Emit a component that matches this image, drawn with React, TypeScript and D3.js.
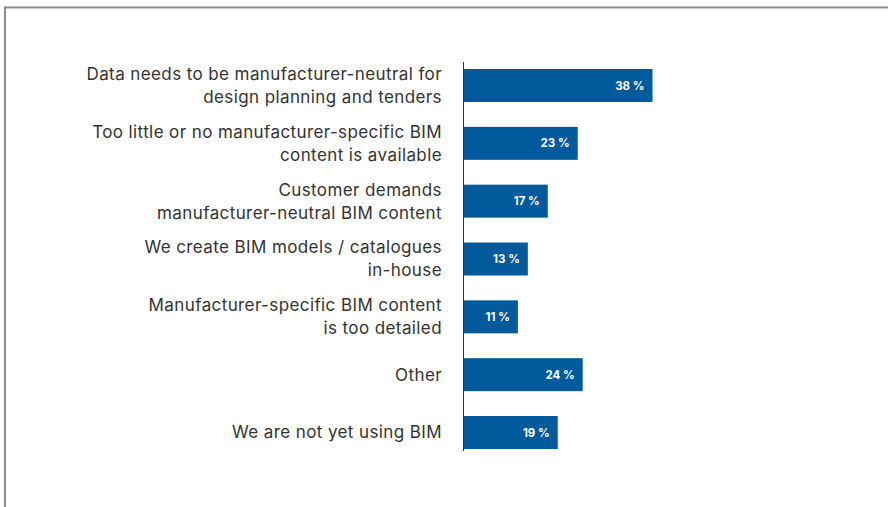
import React from "react";
import { scaleLinear, scaleBand } from "d3";

const width = 888;
const height = 507;

// survey answers, top to bottom
const categories = [
  ["Data needs to be manufacturer-neutral for", "design planning and tenders"],
  ["Too little or no manufacturer-specific BIM", "content is available"],
  ["Customer demands", "manufacturer-neutral BIM content"],
  ["We create BIM models / catalogues", "in-house"],
  ["Manufacturer-specific BIM content", "is too detailed"],
  ["Other"],
  ["We are not yet using BIM"],
];
const values = [38, 23, 17, 13, 11, 24, 19];

const barColor = "#005a9b";
const textColor = "#333333";
const frameColor = "#8c8c8c";
const font = "Inter, 'Noto Sans', sans-serif";

const axisX = 463;
const top = 69;
const bottom = 449;
const lineHeight = 23;

export default function App() {
  const keys = categories.map((_, i) => String(i));

  // yScale
  const yScale = scaleBand<string>()
    .domain(keys)
    .range([top, bottom])
    .paddingInner(0.43)
    .paddingOuter(0);

  // xScale: ~5px per percent
  const xScale = scaleLinear().domain([0, 38]).range([axisX, 652.5]);

  const [y0, y1] = yScale.range();

  return (
    <div style={{ position: "fixed", left: 0, top: 0 }}>
      <svg width={width} height={height} style={{ display: "block" }}>
        <rect width={width} height={height} fill="#fff" />

        {/* frame */}
        <line x1={4} x2={width} y1={7.5} y2={7.5} stroke={frameColor} strokeWidth={2} />
        <line x1={5} x2={5} y1={6.5} y2={height} stroke={frameColor} strokeWidth={2} />

        {/* bars */}
        {values.map((v, i) => {
          const y = yScale(keys[i]) ?? 0;
          return (
            <g key={i}>
              <rect
                x={xScale(0)}
                y={y}
                width={xScale(v) - xScale(0)}
                height={yScale.bandwidth()}
                fill={barColor}
              />
              <text
                x={xScale(v) - 8}
                y={y + yScale.bandwidth() / 2}
                dy="0.36em"
                textAnchor="end"
                fill="#fff"
                fontFamily={font}
                fontWeight={700}
                fontSize={11.5}
              >
                {`${v} %`}
              </text>
            </g>
          );
        })}

        {/* category labels */}
        {categories.map((lines, i) => {
          const cy = (yScale(keys[i]) ?? 0) + yScale.bandwidth() / 2;
          const start = cy - ((lines.length - 1) * lineHeight) / 2;
          return (
            <text
              key={i}
              textAnchor="end"
              fill={textColor}
              fontFamily={font}
              fontSize={17}
              letterSpacing={0.4}
            >
              {lines.map((l, j) => (
                <tspan key={j} x={442} y={start + j * lineHeight} dy="0.35em">
                  {l}
                </tspan>
              ))}
            </text>
          );
        })}

        {/* y axis line */}
        <line
          x1={axisX + 0.5}
          x2={axisX + 0.5}
          y1={y0 - 7}
          y2={y1 + 2}
          stroke="#333"
          strokeWidth={1}
        />
      </svg>
    </div>
  );
}
